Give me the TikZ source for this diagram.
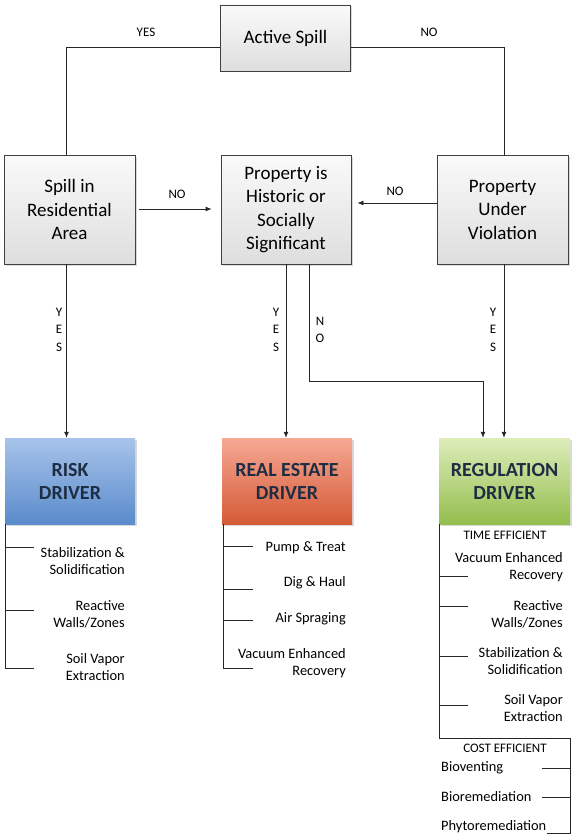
\documentclass[tikz,border=0pt]{standalone}
\usepackage{fontspec}
\setmainfont{Carlito}
\usetikzlibrary{arrows.meta,shadows,calc}
\definecolor{drvtext}{HTML}{1F2D44}
\definecolor{riskT}{HTML}{A8C4EA}
\definecolor{riskB}{HTML}{5A8BCB}
\definecolor{reT}{HTML}{F6A894}
\definecolor{reB}{HTML}{D45A36}
\definecolor{regT}{HTML}{DDEDBA}
\definecolor{regB}{HTML}{94BE4E}
\begin{document}
\begin{tikzpicture}[x=1pt,y=-1pt,
  decision/.style={draw=black!75, line width=0.8pt, top color=gray!4, bottom color=gray!26,
    minimum width=130pt, minimum height=109pt, align=center, inner sep=2pt,
    font=\fontsize{19}{23.5}\selectfont,
    drop shadow={opacity=0.3, shadow xshift=1.5pt, shadow yshift=-1.5pt}},
  driver/.style={draw=none, minimum width=130pt, minimum height=86pt, align=center,
    inner sep=2pt, text=drvtext, font=\fontsize{20}{23}\selectfont\bfseries,
    drop shadow={opacity=0.3, shadow xshift=1.5pt, shadow yshift=-1.5pt}},
  conn/.style={line width=0.8pt, draw=black!85},
  arr/.style={conn, -{Latex[length=6pt,width=5pt]}},
  lab/.style={font=\fontsize{13}{15}\selectfont, inner sep=0pt},
  vlab/.style={font=\fontsize{13}{17.5}\selectfont, align=center, inner sep=0pt},
  item/.style={font=\fontsize{14.4}{17}\selectfont, align=right, anchor=east, inner sep=0pt},
  litem/.style={font=\fontsize{14.4}{17}\selectfont, anchor=west, inner sep=0pt},
  sub/.style={font=\fontsize{13}{15}\selectfont, inner sep=0pt}
]
\useasboundingbox (0,0) rectangle (576,840);

% decision boxes
\node[decision, minimum height=66pt] (as) at (285.5,38) {Active Spill};
\node[decision, minimum width=131pt] (spill) at (69.5,209.5) {Spill in\\Residential\\Area};
\node[decision] (ph) at (286,209.5) {Property is\\Historic or\\Socially\\Significant};
\node[decision, minimum width=131pt] (puv) at (502.5,209.5) {Property\\Under\\Violation};

% drivers
\node[driver, top color=riskT, bottom color=riskB] (risk) at (70,481) {RISK\\DRIVER};
\node[driver, top color=reT, bottom color=reB] (re) at (287,481) {REAL ESTATE\\DRIVER};
\node[driver, minimum width=131pt, top color=regT, bottom color=regB] (reg) at (504.5,481) {REGULATION\\DRIVER};

% top connectors
\draw[conn] ($(as.west)+(0,9)$) -| ($(spill.north)+(-3,0)$);
\draw[conn] ($(as.east)+(0,9)$) -| ($(puv.north)+(1.5,0)$);
\node[lab] (ly1) at (146,32) {YES};
\node[lab] (ln1) at (429,32) {NO};

% horizontal arrows
\draw[arr, shorten <=4pt, shorten >=9pt] (spill.east |- 0,209) -- (ph.west |- 0,209);
\draw[arr, shorten >=6pt] (puv.west |- 0,203) -- (ph.east |- 0,203);
\node[lab] (ln2) at (177,194) {NO};
\node[lab] (ln3) at (395,191) {NO};

% vertical arrows
\draw[arr] ($(spill.south)+(-3,0)$) -- ($(risk.north)+(-3.5,0)$);
\draw[arr] (ph.south) -- (re.north -| ph.south);
\draw[arr] ($(ph.south)+(23,0)$) -- ++(0,117) -| ($(reg.north)+(-21.5,0)$);
\draw[arr] ($(puv.south)+(1.5,0)$) -- (reg.north -| 504,0);
\node[vlab] (vy1) at (59,329.5) {Y\\E\\S};
\node[vlab] (vy2) at (276,329.5) {Y\\E\\S};
\node[vlab] (vn1) at (320,330) {N\\O};
\node[vlab] (vy3) at (493,329.5) {Y\\E\\S};

% risk list
\coordinate (r0) at ($(risk.south west)+(0.5,0)$);
\draw[conn] (r0) -- (r0 |- 0,668) -- ++(29,0);
\draw[conn] (r0 |- 0,547) -- ++(29,0);
\draw[conn] (r0 |- 0,610) -- ++(29,0);
\node[item] (r1) at (125,561.5) {Stabilization \&\\Solidification};
\node[item] (r2) at (125,614) {Reactive\\Walls/Zones};
\node[item] (r3) at (125,667.5) {Soil Vapor\\Extraction};

% real estate list
\coordinate (e0) at ($(re.south west)+(2,0)$);
\draw[conn] (e0) -- (e0 |- 0,668) -- ++(29,0);
\draw[conn] (e0 |- 0,546) -- ++(29,0);
\draw[conn] (e0 |- 0,589) -- ++(29,0);
\draw[conn] (e0 |- 0,620) -- ++(29,0);
\node[item] (e1) at (346,548) {Pump \& Treat};
\node[item] (e2) at (346,583) {Dig \& Haul};
\node[item] (e3) at (346,619) {Air Spraging};
\node[item] (e4) at (346,663) {Vacuum Enhanced\\Recovery};

% regulation list
\coordinate (g0) at ($(reg.south west)+(1,0)$);
\coordinate (g1) at (570,738);
\draw[conn] (g0) -- (g0 |- g1) -- (g1) -- (570,833) -- (547,833);
\draw[conn] (g0 |- 0,576) -- ++(28,0);
\draw[conn] (g0 |- 0,606) -- ++(28,0);
\draw[conn] (g0 |- 0,656) -- ++(28,0);
\draw[conn] (g0 |- 0,705) -- ++(28,0);
\draw[conn] (g1 |- 0,768) -- ++(-28,0);
\draw[conn] (g1 |- 0,797) -- ++(-28,0);
\node[sub] (te) at (505,535) {TIME EFFICIENT};
\node[item] (g2) at (563,567) {Vacuum Enhanced\\Recovery};
\node[item] (g3) at (563,614.5) {Reactive\\Walls/Zones};
\node[item] (g4) at (563,661.5) {Stabilization \&\\Solidification};
\node[item] (g5) at (563,708.5) {Soil Vapor\\Extraction};
\node[sub] (ce) at (505,748) {COST EFFICIENT};
\node[litem] (c1) at (441,768) {Bioventing};
\node[litem] (c2) at (441,797) {Bioremediation};
\node[litem] (c3) at (441,827) {Phytoremediation};
\end{tikzpicture}
\end{document}
